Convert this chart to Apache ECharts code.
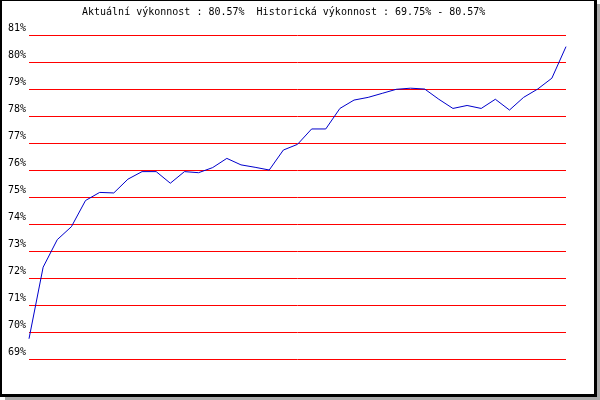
<!DOCTYPE html>
<html>
<head>
<meta charset="utf-8">
<script src="https://cdn.jsdelivr.net/npm/echarts@6/dist/echarts.min.js"></script>
<style>
html,body{margin:0;padding:0;background:#fff;}
#c{width:600px;height:400px;}
</style>
</head>
<body>
<div id="c"></div>
<script>
const titleText = 'Aktuální výkonnost : 80.57%  Historická výkonnost : 69.75% - 80.57%';
const categories = ['1','2','3','4','5','6','7','8','9','10','11','12','13','14','15','16','17','18','19','20',
  '21','22','23','24','25','26','27','28','29','30','31','32','33','34','35','36','37','38','39'];
const performance = [69.75, 72.40, 73.42, 73.90, 74.87, 75.17, 75.15, 75.66, 75.94, 75.94,
  75.51, 75.94, 75.90, 76.09, 76.43, 76.19, 76.10, 76.00, 76.74, 76.95,
  77.52, 77.52, 78.28, 78.59, 78.69, 78.84, 78.99, 79.03, 79.00, 78.62,
  78.28, 78.39, 78.28, 78.62, 78.22, 78.69, 79.00, 79.40, 80.57];
const yMin = 69, yMax = 81, yStep = 1;

const chart = echarts.init(document.getElementById('c'), null, {renderer: 'canvas'});
chart.setOption({
  animation: false,
  backgroundColor: '#ffffff',
  graphic: [
    {type: 'rect', z: -100, silent: true, shape: {x: 5, y: 4, width: 595, height: 396}, style: {fill: '#aaaaaa'}},
    {type: 'rect', z: -99, silent: true, shape: {x: 0, y: 0, width: 597, height: 397}, style: {fill: '#000000'}},
    {type: 'rect', z: -98, silent: true, shape: {x: 2, y: 1, width: 592, height: 393}, style: {fill: '#ffffff'}}
  ],
  title: {
    text: titleText,
    left: 82,
    top: 7,
    padding: 0,
    textStyle: {fontFamily: 'DejaVu Sans Mono', fontSize: 10, fontWeight: 'normal', color: '#000'}
  },
  grid: {left: 29, right: 34, top: 35, bottom: 41, containLabel: false},
  xAxis: {
    type: 'category',
    data: categories,
    boundaryGap: false,
    axisLine: {show: false},
    axisTick: {show: false},
    axisLabel: {show: false},
    splitLine: {show: false}
  },
  yAxis: {
    type: 'value',
    min: yMin,
    max: yMax,
    interval: yStep,
    axisLine: {show: false},
    axisTick: {show: false},
    axisLabel: {
      formatter: '{value}%',
      margin: 3,
      verticalAlign: 'bottom',
      padding: [0, 0, 2, 0],
      fontFamily: 'DejaVu Sans Mono',
      fontSize: 10,
      color: '#000'
    },
    splitLine: {show: true, lineStyle: {color: '#ff0000', width: 1}}
  },
  series: [{
    type: 'line',
    data: performance,
    symbol: 'none',
    lineStyle: {color: '#0000cc', width: 1},
    z: 5
  }]
});
</script>
</body>
</html>
